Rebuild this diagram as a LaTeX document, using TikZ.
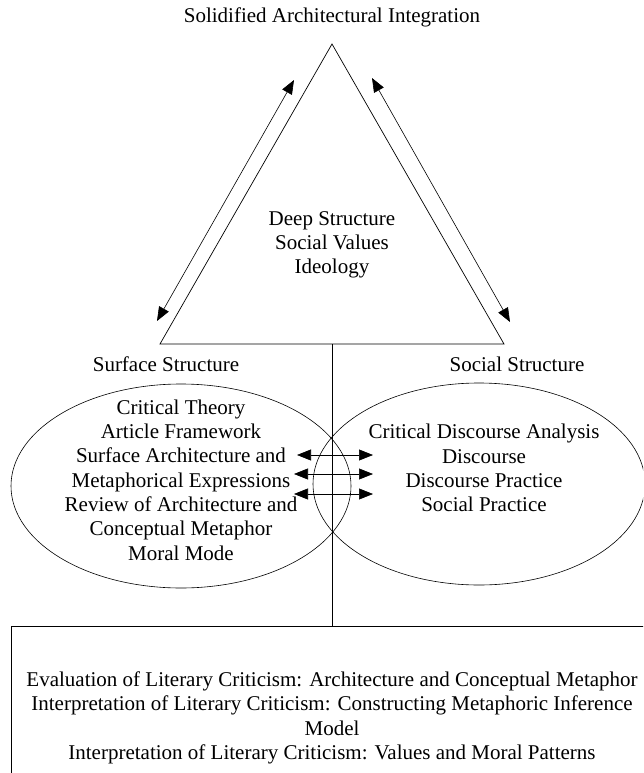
\documentclass[tikz,border=0pt]{standalone}
\usepackage{fontspec}
\setmainfont{Liberation Serif}
\usetikzlibrary{shapes, arrows.meta, calc, positioning}
\tikzset{textnode/.style={align=center, inner sep=0pt, font=\fontsize{21}{24.3}\selectfont}}
\tikzset{regionnode/.style={draw, ellipse, inner sep=0pt, line width=0.6pt}}
\tikzset{framenode/.style={draw, rectangle, inner sep=0pt, line width=0.6pt}}
\tikzset{edge/.style={line width=0.7pt}}
\tikzset{link/.style={{Triangle[length=14pt,width=11pt]}-{Triangle[length=14pt,width=11pt]}, line width=0.6pt}}

\begin{document}
\begin{tikzpicture}[x=1pt, y=-1pt]
        \useasboundingbox (0,0) rectangle (643,773);
        \clip (0,0) rectangle (643,773);
        \begin{scope}
            % triangle
            \coordinate (Ntop) at (332, 44);
            \coordinate (Nleft) at (160, 344);
            \coordinate (Nright) at (504, 344);
            \coordinate (Nbase) at ($(Nleft)!0.5!(Nright)$);
            \draw [edge] (Ntop) -- (Nleft) -- (Nright) -- cycle;

            \node[textnode] (Ntitle) at (332, 17) {Solidified Architectural Integration};
            \node[textnode] (Ndeep) at (332, 245) {Deep Structure\\Social Values\\Ideology};

            \coordinate (Na1) at (294, 80);
            \coordinate (Na2) at (157, 321);
            \coordinate (Nb1) at (372, 78);
            \coordinate (Nb2) at (510, 322);
            \draw [link] (Na1) -- (Na2);
            \draw [link] (Nb1) -- (Nb2);

            % ellipses
            \node[regionnode, minimum width=340, minimum height=204] (Nsurface) at (181, 486) {};
            \node[regionnode, minimum width=332, minimum height=202] (Nsocial) at (479, 484) {};

            \node[textnode] (Nsurfacetitle) at (166, 364) {Surface Structure};
            \node[textnode] (Nsocialtitle) at (517, 364) {Social Structure};

            \node[textnode] (Nsurfacetext) at (181, 480) {Critical Theory\\Article Framework\\Surface Architecture and\\Metaphorical Expressions\\Review of Architecture and\\Conceptual Metaphor\\Moral Mode};
            \node[textnode] (Nsocialtext) at (484, 468) {Critical Discourse Analysis\\Discourse\\Discourse Practice\\Social Practice};

            \coordinate (Nl1) at (297, 455);
            \coordinate (Nr1) at (373, 455);
            \coordinate (Nl2) at (294, 474);
            \coordinate (Nr2) at (373, 474);
            \coordinate (Nl3) at (294, 494);
            \coordinate (Nr3) at (373, 494);
            \draw [link] (Nl1) -- (Nr1);
            \draw [link] (Nl2) -- (Nr2);
            \draw [link] (Nl3) -- (Nr3);

            % bottom box
            \node[framenode, anchor=north west, minimum width=650, minimum height=200] (Nbox) at (11, 626) {};
            \node[textnode] (Nboxtext) at (332, 718) {Evaluation of Literary Criticism: Architecture and Conceptual Metaphor\\Interpretation of Literary Criticism: Constructing Metaphoric Inference\\Model\\Interpretation of Literary Criticism: Values and Moral Patterns};

            \draw [edge] (Nbase) -- (Nbase |- Nbox.north);
        \end{scope}
    \end{tikzpicture}
\end{document}
